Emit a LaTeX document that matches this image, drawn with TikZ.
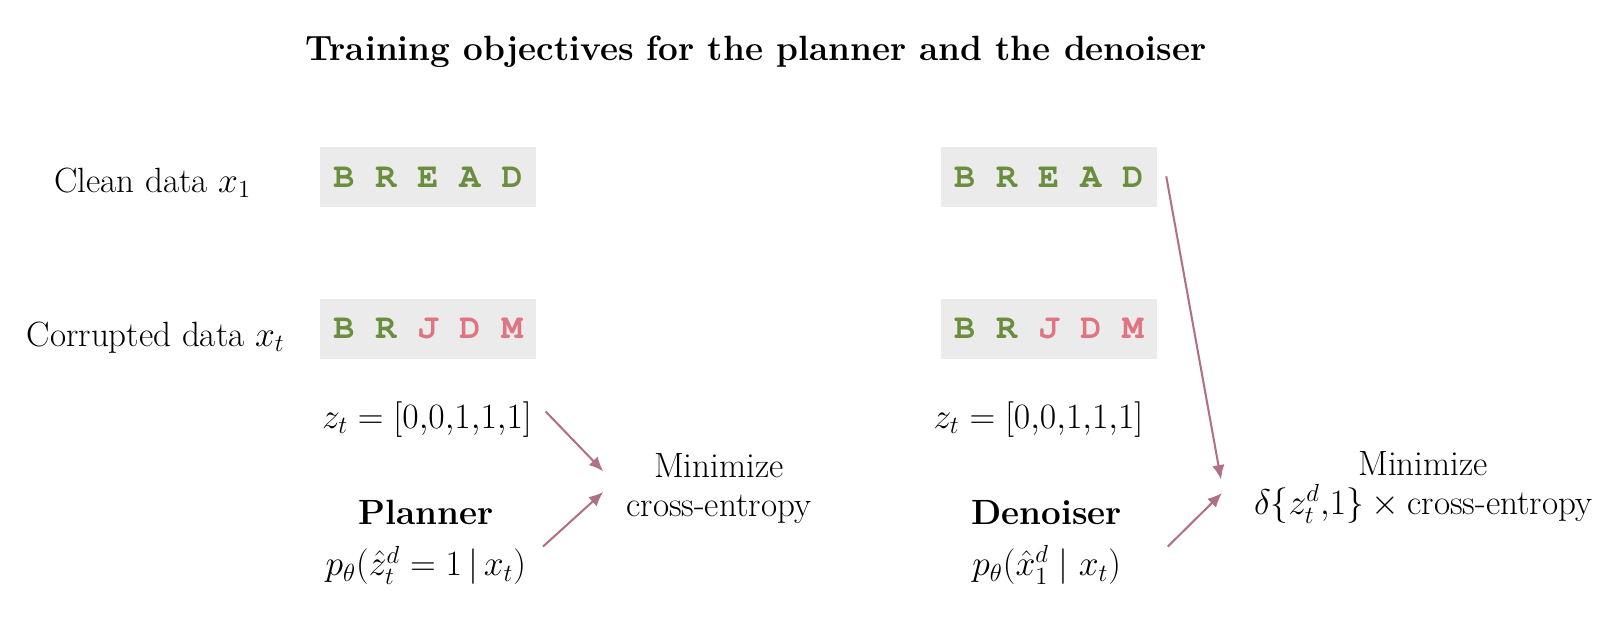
\documentclass[tikz,border=0pt]{standalone}
\usepackage{fontspec}
\newfontfamily\tokfont{TeX Gyre Cursor}
\usetikzlibrary{arrows.meta}
\definecolor{tokgreen}{RGB}{106,142,62}
\definecolor{tokred}{RGB}{224,117,130}
\definecolor{boxgray}{RGB}{235,235,235}
\definecolor{arrowpink}{RGB}{176,112,136}
\newcommand{\tokg}[1]{\textcolor{tokgreen}{#1}}
\newcommand{\tokr}[1]{\textcolor{tokred}{#1}}
\tikzset{
  txt/.style={font=\fontsize{17}{19}\selectfont, inner sep=0pt, align=center},
  ttl/.style={font=\fontsize{17}{20}\selectfont\bfseries, inner sep=0pt},
  tokbox/.style={fill=boxgray, minimum width=104.5pt, minimum height=29pt, inner sep=0pt,
    font=\fontsize{17}{19}\selectfont\tokfont\bfseries},
  arr/.style={-{Latex[length=7pt,width=6pt]}, arrowpink, line width=1pt}
}
\begin{document}
\begin{tikzpicture}[x=0.5pt,y=-0.5pt]
    \useasboundingbox (0,0) rectangle (1568,612);
    % Judul
    \node[ttl] (title) at (733,50) {Training objectives for the planner and the denoiser};
    % Label baris
    \node[txt] (cleanlbl) at (148,177) {Clean data $x_1$};
    \node[txt] (corrlbl) at (151,327) {Corrupted data $x_t$};
    % Planner
    \node[tokbox] (cleanL) at (415,172) {\tokg{B R E A D}};
    \node[tokbox] (corrL) at (415,319) {\tokg{B R} \tokr{J D M}};
    \node[txt] (zL) at (414,407) {$z_t = [0{,}0{,}1{,}1{,}1]$};
    \node[txt] (planL) at (413,526) {\textbf{Planner}\\[6pt]$p_\theta(\hat{z}_t^d = 1\,|\,x_t)$};
    \node[txt] (minL) at (697,474) {Minimize\\cross-entropy};
    % Denoiser
    \node[tokbox] (cleanR) at (1017,172) {\tokg{B R E A D}};
    \node[tokbox] (corrR) at (1017,319) {\tokg{B R} \tokr{J D M}};
    \node[txt] (zR) at (1007,407) {$z_t = [0{,}0{,}1{,}1{,}1]$};
    \node[txt] (denR) at (1015,526) {\textbf{Denoiser}\\[6pt]$p_\theta(\hat{x}_1^d \mid x_t)$};
    \node[txt] (minR) at (1380,473) {Minimize\\$\delta\{z_t^d{,}1\} \times \mbox{cross-entropy}$};
    % Ujung panah
    \coordinate (inL1) at (585,457);
    \coordinate (inL2) at (585,477);
    \coordinate (inR1) at (1184,465);
    \coordinate (inR2) at (1185,478);
    % Panah
    \draw[arr] (zL.east) ++(13,-8) -- (inL1);
    \draw[arr] (planL.east) ++(16,4) -- (inL2);
    \draw[arr] (cleanR.east) ++(9,-1) -- (inR1);
    \draw[arr] (denR.east) ++(44,4) -- (inR2);
\end{tikzpicture}
\end{document}
